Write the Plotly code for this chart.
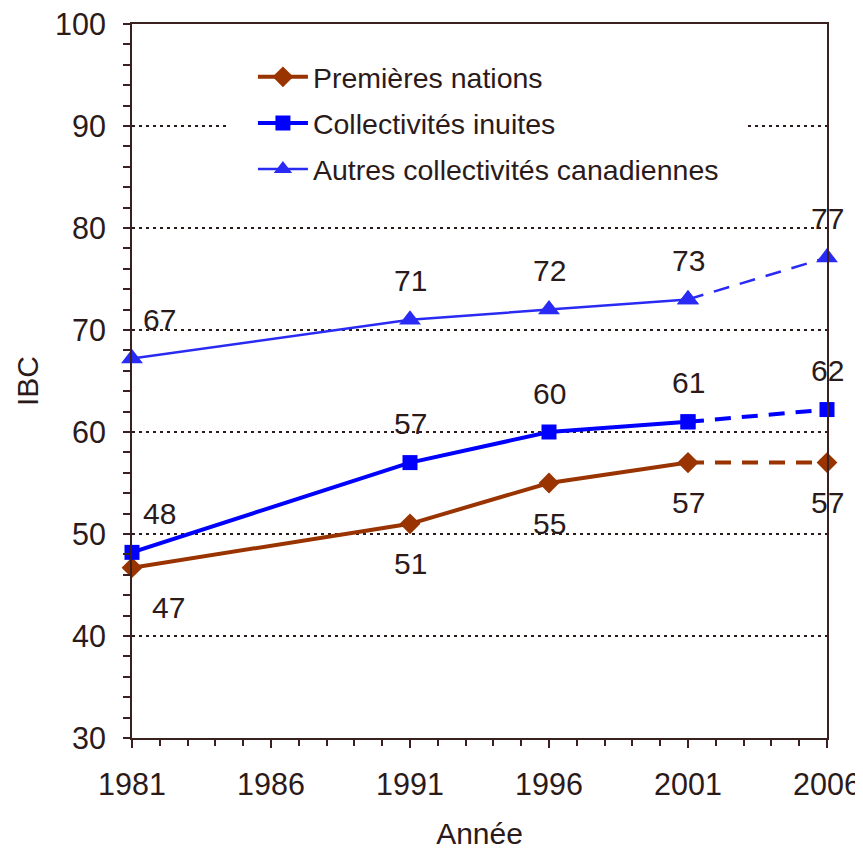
import plotly.graph_objects as go

years = [1981, 1991, 1996, 2001, 2006]
premieres = [46.7, 51, 55, 57, 57]
inuites = [48.2, 57, 60, 61, 62.2]
autres = [67.2, 71, 72, 73, 77.1]
names = ["Premières nations", "Collectivités inuites", "Autres collectivités canadiennes"]

TXT = "#2b1a1a"
AX = "#3b2020"
FONT = "Liberation Sans, Arial, sans-serif"
FS_TICK = 30.5
FS_LEG = 28.5
FS_LAB = 30

series = [
    dict(name=names[0], y=premieres, color="#993300", width=4, symbol="diamond", size=16, below=True),
    dict(name=names[1], y=inuites, color="#0000ff", width=4, symbol="square", size=15, below=False),
    dict(name=names[2], y=autres, color="#2a2af5", width=2.5, symbol="triangle-up", size=19, below=False),
]

fig = go.Figure()
annotations = []
for i, s in enumerate(series):
    fig.add_trace(go.Scatter(
        x=years[:4], y=s["y"][:4], mode="lines+markers", name=s["name"],
        legendgroup=f"g{i}", showlegend=True,
        line=dict(color=s["color"], width=s["width"]),
        marker=dict(symbol=s["symbol"], size=s["size"], color=s["color"]),
        cliponaxis=False,
    ))
    fig.add_trace(go.Scatter(
        x=years[3:], y=s["y"][3:], mode="lines+markers", name=s["name"],
        legendgroup=f"g{i}", showlegend=False,
        line=dict(color=s["color"], width=s["width"], dash="16px,11px"),
        marker=dict(symbol=s["symbol"], size=s["size"], color=s["color"]),
        cliponaxis=False,
    ))
    for j, (xv, yv) in enumerate(zip(years, s["y"])):
        annotations.append(dict(
            x=xv, y=yv, xref="x", yref="y", text=str(round(yv)), showarrow=False,
            font=dict(family=FONT, size=FS_LAB, color=TXT),
            xshift=(36 if s["below"] else 27) if j == 0 else 0,
            yshift=-40 if s["below"] else 39,
        ))

fig.update_layout(
    width=855, height=842,
    margin=dict(l=124, r=36, t=16, b=112),
    paper_bgcolor="white", plot_bgcolor="white",
    font=dict(family=FONT, size=FS_TICK, color=TXT),
    annotations=annotations,
    showlegend=True,
    legend=dict(
        x=0.174 - 24 / 695, y=0.961 + 24 / 714, xanchor="left", yanchor="top",
        bgcolor="white", bordercolor="white", borderwidth=24,
        font=dict(family=FONT, size=FS_LEG, color=TXT),
        tracegroupgap=6, itemwidth=50,
    ),
    xaxis=dict(
        range=[1981, 2006], tick0=1981, dtick=5, automargin=False,
        showline=True, linecolor=AX, linewidth=2, mirror=True,
        ticks="outside", ticklen=8, tickwidth=1.5, tickcolor=AX,
        minor=dict(dtick=1, ticks="outside", ticklen=6, tickwidth=1.5, tickcolor=AX),
        showgrid=False, zeroline=False,
        title=dict(text="Année", font=dict(family=FONT, size=FS_LAB, color=TXT), standoff=38),
        tickfont=dict(family=FONT, size=FS_TICK, color=TXT),
        ticklabelstandoff=10, ticklabeloverflow="allow",
    ),
    yaxis=dict(
        range=[30, 100], tick0=30, dtick=10, automargin=False,
        showline=True, linecolor=AX, linewidth=2, mirror=True,
        ticks="outside", ticklen=7, tickwidth=1.5, tickcolor=AX,
        minor=dict(dtick=2, ticks="outside", ticklen=7, tickwidth=1.5, tickcolor=AX, showgrid=False),
        showgrid=True, gridcolor=TXT, gridwidth=1.5, griddash="3px,4px",
        zeroline=False,
        title=dict(text="IBC", font=dict(family=FONT, size=FS_LAB, color=TXT), standoff=8),
        tickfont=dict(family=FONT, size=FS_TICK, color=TXT),
        ticklabelstandoff=11, ticklabeloverflow="allow",
    ),
)

fig.write_html("out.html")
